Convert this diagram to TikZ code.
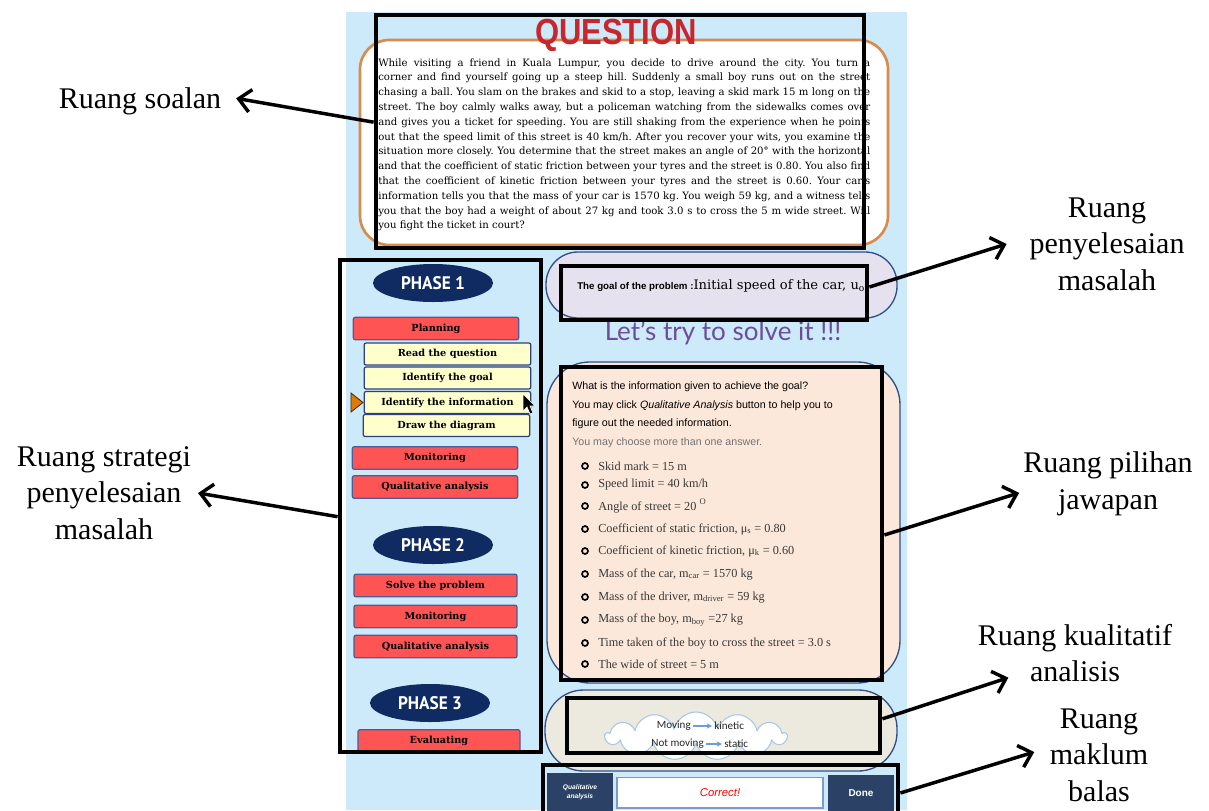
\documentclass[tikz,border=0pt]{standalone}
\usepackage{fontspec}
\usepackage{graphicx}
\setmainfont{Liberation Serif}
\newfontfamily\mydeja{DejaVu Serif}
\newfontfamily\mysans{Liberation Sans}
\newfontfamily\mylato{Lato}
\newfontfamily\mycarl{Carlito}
\newfontfamily\mypt{PT Sans}
\usetikzlibrary{arrows.meta,shapes.geometric,shapes.symbols,fit}
\definecolor{panelblue}{HTML}{CDEAFB}
\definecolor{qorange}{HTML}{D98B4C}
\definecolor{qred}{HTML}{C9252C}
\definecolor{phasenavy}{HTML}{0F2B62}
\definecolor{btnred}{HTML}{FF5454}
\definecolor{btnborder}{HTML}{4B5C9B}
\definecolor{yellowbtn}{HTML}{FFFFCC}
\definecolor{navyline}{HTML}{2E3F7A}
\definecolor{pillborder}{HTML}{30508A}
\definecolor{goalfill}{HTML}{E6E1EE}
\definecolor{peach}{HTML}{FCE8DA}
\definecolor{beige}{HTML}{ECEADF}
\definecolor{cloudline}{HTML}{A8C6EA}
\definecolor{cloudarrow}{HTML}{6F9BD6}
\definecolor{fbnavy}{HTML}{2B4266}
\definecolor{correctborder}{HTML}{7B9BD0}
\definecolor{letspurple}{HTML}{6C4D9A}
\definecolor{itemgray}{HTML}{383838}
\definecolor{triorange}{HTML}{E07B00}
\newcommand{\mybtnfont}{\mydeja\bfseries\fontsize{7.3}{9}\selectfont}
\newcommand{\mylblfont}{\fontsize{22.5}{27.5}\selectfont}
\newcommand{\myitemfont}{\fontsize{9.2}{11}\selectfont}
\newcommand{\myqfont}{\mydeja\fontsize{7.6}{11.1}\selectfont\frenchspacing}
\newcommand{\myinstrfont}{\mysans\fontsize{8}{9}\selectfont}
\newcommand{\myphase}[1]{\resizebox{48pt}{9.75pt}{\mypt\bfseries PHASE #1}}
\begin{document}
\begin{tikzpicture}[x=0.75pt,y=-0.75pt,
  frame/.style={draw=black, line width=3.6pt, inner sep=0pt},
  redbtn/.style={draw=btnborder, fill=btnred, line width=0.9pt, rounded corners=1.5pt,
    minimum width=124pt, minimum height=17pt, inner sep=0pt, font=\mybtnfont, text=black},
  yelbtn/.style={redbtn, fill=yellowbtn, draw=navyline, minimum width=125pt, minimum height=16.5pt},
  phase/.style={ellipse, fill=phasenavy, minimum width=90pt, minimum height=28.5pt, inner sep=0pt, text=white},
  lbl/.style={font=\mylblfont, align=center, inner sep=0pt},
  annot/.style={line width=2.6pt, -{Straight Barb[length=9pt,width=17pt]}},
  item/.style={anchor=west, inner sep=0pt, font=\myitemfont, text=itemgray},
  bul/.style={circle, draw=black, line width=1.25pt, fill=peach, minimum size=4.5pt, inner sep=0pt},
  instr/.style={anchor=base west, inner sep=0pt, font=\myinstrfont},
  cltxt/.style={inner sep=1.5pt, font=\mycarl\fontsize{8.3}{10}\selectfont, text=black!85},
  clarrow/.style={draw=cloudarrow, line width=0.9pt, -{Stealth[length=4pt,width=4pt]}},
  fbbox/.style={fill=fbnavy, inner sep=0pt, text=white, align=center}
]
\useasboundingbox (0,0) rectangle (1209,810);
\fill[white] (0,0) rectangle (1209,810);
% screen panel
\fill[panelblue] (346,12) rectangle (907,810);

% question area
\draw[qorange, line width=2pt, fill=white, rounded corners=22pt] (360,40) rectangle (888,245);
\node[inner sep=0pt, anchor=base, text=qred] (qtitle) at (616,44) {\resizebox{121.5pt}{19pt}{\mysans\bfseries QUESTION}};
\node[anchor=base west, inner sep=0pt] (qtext) at (378,66) {\begin{minipage}[t]{369pt}\myqfont
\makebox[\linewidth][s]{While visiting a friend in Kuala Lumpur, you decide to drive around the city.  You turn a}\\
\makebox[\linewidth][s]{corner and find yourself going up a steep hill. Suddenly a small boy runs out on the street}\\
\makebox[\linewidth][s]{chasing a ball. You slam on the brakes and skid to a stop, leaving a skid mark 15 m long on the}\\
\makebox[\linewidth][s]{street. The boy calmly walks away, but a policeman watching from the sidewalks comes over}\\
\makebox[\linewidth][s]{and gives you a ticket for speeding. You are still shaking from the experience when he points}\\
\makebox[\linewidth][s]{out that the speed limit of this street is 40 km/h. After you recover your wits, you examine the}\\
\makebox[\linewidth][s]{situation more closely. You determine that the street makes an angle of 20° with the horizontal}\\
\makebox[\linewidth][s]{and that the coefficient of static friction between your tyres and the street is 0.80. You also find}\\
\makebox[\linewidth][s]{that the coefficient of kinetic friction between your tyres and the street is 0.60. Your car's}\\
\makebox[\linewidth][s]{information tells you that the mass of your car is 1570 kg. You weigh 59 kg, and a witness tells}\\
\makebox[\linewidth][s]{you that the boy had a weight of about 27 kg and took 3.0 s to cross the 5 m wide street. Will}\\
you fight the ticket in court?\end{minipage}};

% left strategy panel
\node[phase] (ph1) at (433,283) {\myphase{1}};
\node[redbtn] (p1plan) at (436,328.5) {Planning};
\node[yelbtn] (p1read) at (447.5,354) {Read the question};
\node[yelbtn] (p1goal) at (447.5,378) {Identify the goal};
\node[yelbtn] (p1info) at (447.5,402.5) {Identify the information};
\node[yelbtn] (p1draw) at (446.5,425.5) {Draw the diagram};
\node[redbtn] (p1mon) at (435,458) {Monitoring};
\node[redbtn] (p1qa) at (435,487) {Qualitative analysis};
\node[phase] (ph2) at (433,545) {\myphase{2}};
\node[redbtn, minimum width=122.25pt] (p2solve) at (435.5,585.5) {Solve the problem};
\node[redbtn, minimum width=122.25pt] (p2mon) at (435.5,616.5) {Monitoring};
\node[redbtn, minimum width=122.25pt] (p2qa) at (435.5,646.5) {Qualitative analysis};
\node[phase] (ph3) at (430,703) {\myphase{3}};
\node[redbtn, minimum width=121.5pt] (p3eval) at (439,741) {Evaluating};
% pointer triangle and cursor
\draw[fill=triorange, draw=black!70!triorange, line width=0.6pt] (351,393) -- (363,402.5) -- (351,412) -- cycle;
\draw[fill=black, draw=white, line width=0.5pt] (523,394) -- (523,411) -- (527,407) -- (530,414) -- (533,413) -- (530,406) -- (535,406) -- cycle;

% goal pill
\draw[pillborder, line width=1pt, fill=goalfill, rounded corners=24pt] (546,252) rectangle (897,318);
\node[anchor=base west, inner sep=0pt] (goaltxt) at (577,289) {{\mysans\bfseries\fontsize{7.3}{9}\selectfont The goal of the problem :}{\mydeja\fontsize{9.8}{11}\selectfont Initial speed of the car, u\textsubscript{o}}};
\node[inner sep=0pt, text=letspurple, font=\mylato\fontsize{19.5}{22}\selectfont] (lets) at (723,333) {Let’s try to solve it !!!};

% options pill
\draw[pillborder, line width=1pt, fill=peach, rounded corners=32pt] (547,362) rectangle (900,683);
\node[instr] (in1) at (572,389) {What is the information given to achieve the goal?};
\node[instr] (in2) at (572,408) {You may click \textit{Qualitative Analysis} button to help you to};
\node[instr] (in3) at (572,426.5) {figure out the needed information.};
\node[instr, text=black!55] (in4) at (572,445) {You may choose more than one answer.};
\node[bul] (b1) at (585,466) {};
\node[item] (o1) at (598,466) {Skid mark = 15 m};
\node[bul] (b2) at (585,485) {};
\node[item] (o2) at (598,485) {Speed limit = 40 km/h};
\node[bul] (b3) at (585,506) {};
\node[item] (o3) at (598,506) {Angle of street = 20 \textsuperscript{O}};
\node[bul] (b4) at (585,529) {};
\node[item] (o4) at (598,529) {Coefficient of static friction, μ\textsubscript{s} = 0.80};
\node[bul] (b5) at (585,551) {};
\node[item] (o5) at (598,551) {Coefficient of kinetic friction, μ\textsubscript{k} = 0.60};
\node[bul] (b6) at (585,574) {};
\node[item] (o6) at (598,574) {Mass of the car, m\textsubscript{car} = 1570 kg};
\node[bul] (b7) at (585,597) {};
\node[item] (o7) at (598,597) {Mass of the driver, m\textsubscript{driver} = 59 kg};
\node[bul] (b8) at (585,620) {};
\node[item] (o8) at (598,620) {Mass of the boy, m\textsubscript{boy} =27 kg};
\node[bul] (b9) at (585,643) {};
\node[item] (o9) at (598,643) {Time taken of the boy to cross the street = 3.0 s};
\node[bul] (b10) at (585,664) {};
\node[item] (o10) at (598,664) {The wide of street = 5 m};

% qualitative pill
\draw[pillborder, line width=1pt, fill=beige, rounded corners=29pt] (545,690) rectangle (897,771);
\node[cloud, cloud puffs=13, aspect=3.6, draw=cloudline, fill=white, line width=0.8pt, minimum width=136pt, minimum height=36pt] (cloud) at (696,736) {};
\node[cltxt, anchor=east] (mv) at (693,726) {Moving};
\node[cltxt, anchor=west] (kin) at (712,726) {kinetic};
\node[cltxt, anchor=east] (nmv) at (706,744) {Not moving};
\node[cltxt, anchor=west] (stat) at (722,744) {static};
\draw[clarrow] (mv) -- (kin);
\draw[clarrow] (nmv) -- (stat);

% feedback bar
\node[fbbox, minimum width=49.5pt, minimum height=29pt, font=\mysans\bfseries\itshape\fontsize{5}{7}\selectfont] (qabtn) at (580,792.5) {Qualitative\\analysis};
\node[draw=correctborder, line width=1pt, fill=white, minimum width=154.5pt, minimum height=23pt, inner sep=0pt, text=red, font=\mysans\itshape\fontsize{8.5}{10}\selectfont] (fbtxt) at (720,792.5) {Correct!};
\node[fbbox, minimum width=49.5pt, minimum height=28pt, font=\mysans\bfseries\fontsize{7.5}{9}\selectfont] (done) at (861,793.5) {Done};

% annotation frames
\node[frame, fit={(376,15) (864,248)}] (fq) {};
\node[frame, fit={(340,260) (541,752)}] (fs) {};
\node[frame, fit={(561,266) (867,320)}] (fg) {};
\node[frame, fit={(561,367) (882,680)}] (fo) {};
\node[frame, fit={(567,698) (880,753)}] (fk) {};
\node[frame, fit={(543,765) (898,814)}] (ff) {};

% annotation labels
\node[lbl] (lq) at (140,101) {Ruang soalan};
\node[lbl] (ls) at (104,493) {Ruang strategi\\penyelesaian\\masalah};
\node[lbl] (lg) at (1107,244) {Ruang\\penyelesaian\\masalah};
\node[lbl] (lo) at (1108,483.5) {Ruang pilihan\\jawapan};
\node[lbl] (lk) at (1075,653) {Ruang kualitatif\\analisis};
\node[lbl] (lm) at (1099,755) {Ruang\\maklum\\balas};

% annotation arrows
\draw[annot] ([yshift=7pt]fq.west) -- ([xshift=11pt,yshift=2pt]lq.east);
\draw[annot] ([yshift=-8pt]fs.west) -- ([xshift=5pt]ls.east);
\draw[annot] ([yshift=4.5pt]fg.east) -- ([xshift=-17pt]lg.west);
\draw[annot] ([yshift=-8.6pt]fo.east) -- ([xshift=-3pt,yshift=-7pt]lo.west);
\draw[annot] ([yshift=5pt]fk.east) -- ([xshift=-50pt,yshift=3.5pt]lk.south);
\draw[annot] ([yshift=-2.6pt]ff.east) -- ([xshift=-11.5pt,yshift=2.2pt]lm.west);
\end{tikzpicture}
\end{document}
